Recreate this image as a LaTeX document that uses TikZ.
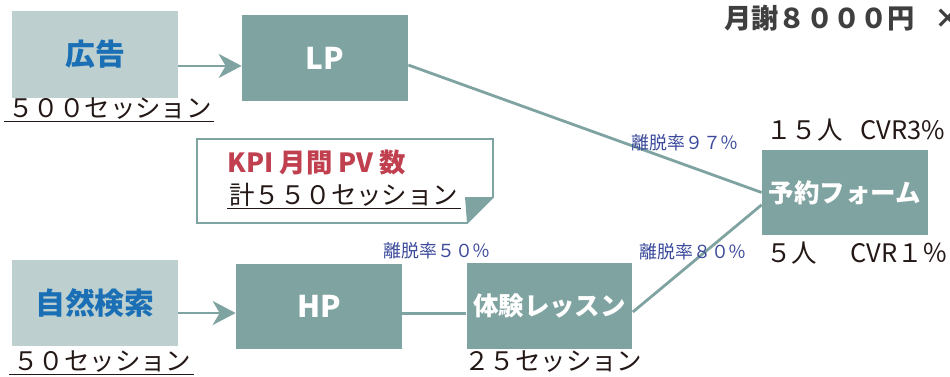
\documentclass[tikz,border=0pt]{standalone}
\usepackage{fontspec}
\setmainfont{Noto Sans CJK JP}
\usetikzlibrary{arrows.meta,positioning}

\definecolor{boxlight}{HTML}{BDD0CF}
\definecolor{boxteal}{HTML}{7FA3A1}
\definecolor{srcblue}{HTML}{1A6FB5}
\definecolor{kpired}{HTML}{C0404F}
\definecolor{ratenavy}{HTML}{3C4A9C}
\definecolor{inkdark}{HTML}{231815}
\definecolor{feegray}{HTML}{3F3F3F}

\tikzset{
  source/.style={fill=boxlight, minimum width=3.32cm, minimum height=1.74cm, inner sep=0pt, text=srcblue, font=\fontsize{17}{20}\selectfont\bfseries},
  page/.style={fill=boxteal, minimum width=3.32cm, minimum height=1.72cm, inner sep=0pt, text=white, font=\fontsize{17}{20}\selectfont\bfseries},
  pagesmall/.style={page, font=\fontsize{14.5}{17}\selectfont\bfseries},
  count/.style={text=inkdark, inner sep=1pt, font=\fontsize{14.5}{17}\selectfont},
  rate/.style={text=ratenavy, inner sep=0pt, font=\fontsize{10.2}{12}\selectfont},
  link/.style={draw=boxteal, line width=1.6pt},
  flow/.style={link, -{Stealth[length=0.46cm,width=0.48cm,inset=0.14cm]}},
  underline/.style={draw=inkdark, line width=0.6pt},
}

\begin{document}
\begin{tikzpicture}[x=0.02cm, y=-0.02cm]
\useasboundingbox (0,0) rectangle (950,376);

% Sources
\node[source] (ad) at (95,54.5) {広告};
\node[source] (search) at (95,303) {自然検索};

% Pages
\node[page] (lp) at (325,58) {LP};
\node[page] (hp) at (319,306.5) {HP};
\node[pagesmall] (lesson) at (549.5,306) {体験レッスン};
\node[pagesmall] (form) at (845,192.5) {予約フォーム};

% Flow
\draw[flow] ([yshift=-6.5pt]ad.east) -- ([yshift=-6.5pt]ad.east -| lp.west);
\draw[flow] ([yshift=-5.7pt]search.east) -- ([yshift=-5.7pt]search.east -| hp.west);
\draw[link] ([yshift=-4pt]lp.east) -- (form.west);
\draw[link] ([yshift=-4pt]hp.east) -- ([yshift=-4pt]hp.east -| lesson.west);
\draw[link] ([yshift=-3.4pt]lesson.east) -- ([yshift=-7pt]form.west);

% Session counts
\node[count, anchor=west] (adcount) at (6,109) {５００セッション};
\draw[underline] ([xshift=-1pt]adcount.south west) -- (adcount.south east);
\node[count, anchor=west] (searchcount) at (11,362) {５０セッション};
\draw[underline] ([xshift=-1pt]searchcount.south west) -- (searchcount.south east);
\node[count, anchor=west] (lessoncount) at (462,362) {２５セッション};

% Drop-off rates
\node[rate, anchor=west] (droplp) at (631,143) {離脱率９７％};
\node[rate, anchor=west] (drophp) at (383,251) {離脱率５０％};
\node[rate, anchor=west] (droplesson) at (639,252) {離脱率８０％};

% Conversions
\node[count, anchor=west] (cvrlp) at (764,130) {１５人\hspace{0.7em}CVR3\%};
\node[count, anchor=west] (cvrlesson) at (764,253) {５人\hspace{1.3em}CVR１％};
\node[anchor=west, inner sep=0pt, text=feegray, font=\fontsize{15.5}{18}\selectfont\bfseries] (fee) at (724,18) {月謝８０００円\hspace{0.7em}×};

% KPI note
\draw[draw=boxteal, line width=1.1pt, fill=white] (197,139) -- (493,139) -- (493,197) -- (467,223) -- (197,223) -- cycle;
\fill[boxteal] (465,197) -- (493,197) -- (467,223) -- cycle;
\node[text=kpired, inner sep=0pt, font=\fontsize{15}{18}\selectfont\bfseries] (kpi) at (317,163) {KPI 月間 PV 数};
\node[count, anchor=west] (kpitotal) at (227,195) {計５５０セッション};
\draw[underline] (kpitotal.south west) -- (kpitotal.south east);
\end{tikzpicture}
\end{document}
